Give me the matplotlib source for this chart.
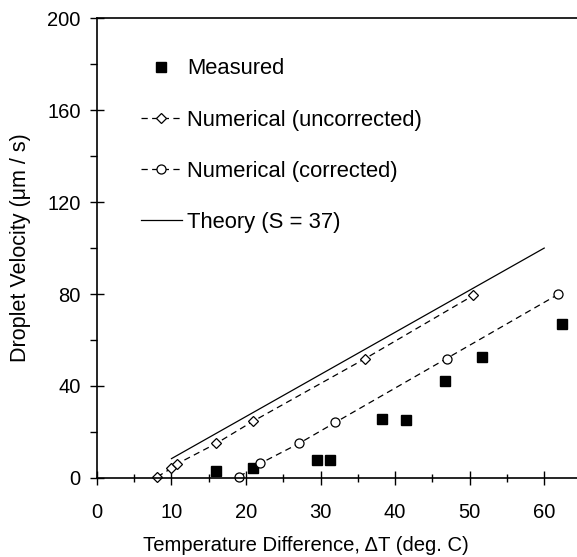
import matplotlib
matplotlib.use('Agg')
import matplotlib.pyplot as plt
from matplotlib.ticker import MultipleLocator

plt.rcParams['font.family'] = ['Liberation Sans', 'DejaVu Sans']

# measured droplet velocity
meas_dT = [16.0, 20.9, 29.5, 31.2, 38.3, 41.5, 46.7, 51.7, 62.4]
meas_v = [3.0, 4.1, 7.7, 7.7, 25.4, 25.0, 42.3, 52.5, 66.8]

# numerical, uncorrected
unc_dT = [8.1, 10.0, 10.8, 16.0, 20.9, 36.0, 50.5]
unc_v = [0.4, 4.1, 6.1, 14.9, 24.5, 51.9, 79.4]

# numerical, corrected
cor_dT = [19.1, 21.9, 27.1, 32.0, 46.9, 61.9]
cor_v = [0.4, 6.2, 14.9, 24.1, 51.9, 79.9]

# theory line S = 37
th_dT = [10.0, 60.0]
th_v = [8.3, 100.0]

fig = plt.figure(figsize=(5.77, 5.57), dpi=100)
ax = fig.add_axes([0.168, 0.1424, 0.832, 0.8244])

ax.plot(meas_dT, meas_v, 's', color='black', markersize=7.2, label='Measured', clip_on=False)
ax.plot(unc_dT, unc_v, '--D', color='black', lw=0.9, dashes=(5, 3.5), markersize=4.6,
        markerfacecolor='white', markeredgewidth=0.9, label='Numerical (uncorrected)', clip_on=False)
ax.plot(cor_dT, cor_v, '--o', color='black', lw=0.9, dashes=(5, 3.5), markersize=6.5,
        markerfacecolor='white', markeredgewidth=0.9, label='Numerical (corrected)', clip_on=False)
ax.plot(th_dT, th_v, '-', color='black', lw=0.9, label='Theory (S = 37)')

ax.set_xlim(0, 64.4)
ax.set_ylim(0, 200)
ax.xaxis.set_major_locator(MultipleLocator(10))
ax.xaxis.set_minor_locator(MultipleLocator(5))
ax.yaxis.set_major_locator(MultipleLocator(40))
ax.yaxis.set_minor_locator(MultipleLocator(20))
ax.tick_params(axis='x', which='major', direction='inout', length=9.6, width=1, labelsize=14.5, pad=13.5)
ax.tick_params(axis='x', which='minor', direction='inout', length=6, width=1)
ax.tick_params(axis='y', which='major', direction='inout', length=9.6, width=1, labelsize=14.5, pad=7)
ax.tick_params(axis='y', which='minor', direction='out', length=4.8, width=1)
ax.spines['right'].set_visible(False)
for s in ['left', 'bottom', 'top']:
    ax.spines[s].set_linewidth(1.2)

ax.set_xlabel('Temperature Difference, \u0394T (deg. C)', fontsize=14.6)
ax.xaxis.set_label_coords(0.435, -0.127)
ax.set_ylabel('Droplet Velocity (\u03bcm / s)', fontsize=15.5)
ax.yaxis.set_label_coords(-0.137, 0.5)

leg = ax.legend(loc='upper left', bbox_to_anchor=(0.0917, 0.913), frameon=False, fontsize=15.8,
                handlelength=1.87, handletextpad=0.23, labelspacing=1.37, borderaxespad=0,
                borderpad=0)

plt.savefig('out.png', dpi=100)
